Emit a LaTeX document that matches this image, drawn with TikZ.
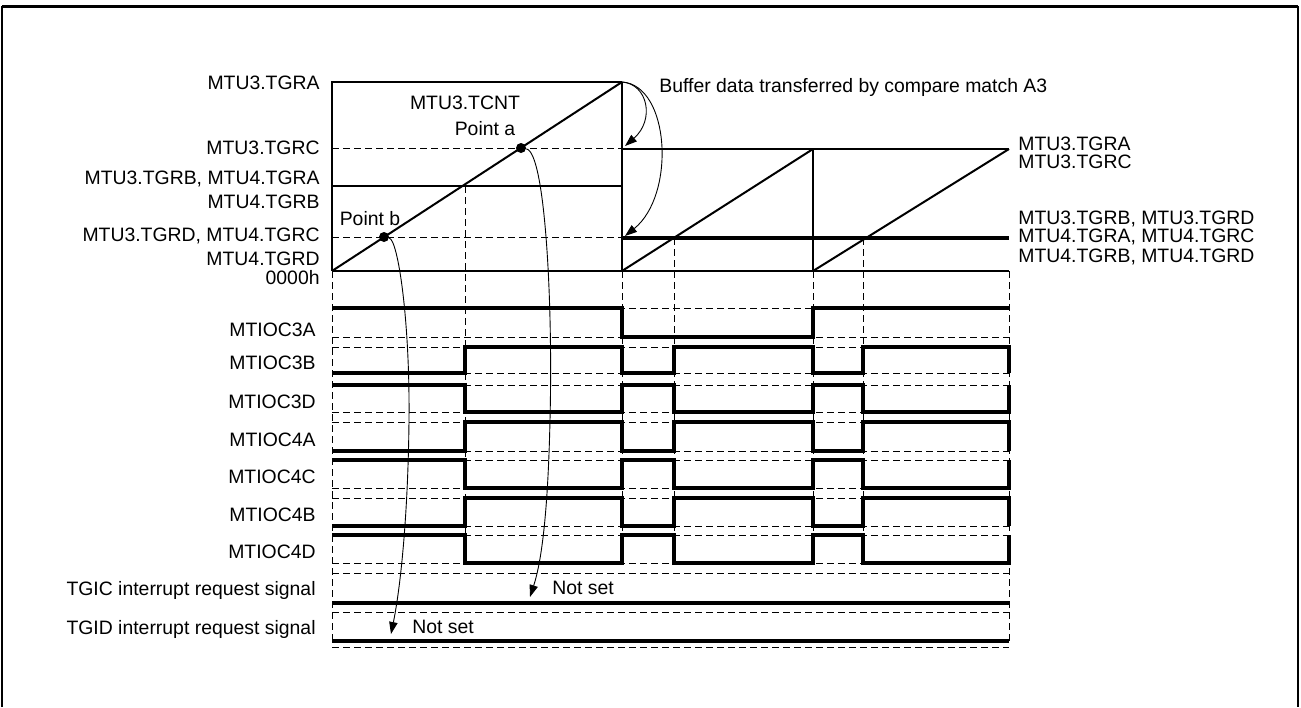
\documentclass[tikz,border=0pt]{standalone}
\usepackage{fontspec}
\setmainfont{Liberation Sans}
\usetikzlibrary{arrows.meta, positioning}

\begin{document}
\begin{tikzpicture}[x=0.5pt, y=-0.5pt,
    >={Triangle[length=6pt,width=4.2pt]},
    lbl/.style={font=\fontsize{9.7}{11}\selectfont, inner sep=0pt},
    llbl/.style={lbl, anchor=east},
    rlbl/.style={lbl, anchor=west},
    tight/.style={rlbl, text height=6.8pt, text depth=0pt},
    guide/.style={dash pattern=on 3.5pt off 2pt, line width=0.5pt},
    sig/.style={line width=1.6pt, line join=miter},
    lvl/.style={line width=1.2pt},
    ramp/.style={line width=1pt},
    note/.style={->, line width=0.45pt},
    dot/.style={circle, fill, inner sep=0pt, minimum size=5pt}]
  \useasboundingbox (0,0) rectangle (1301,707);
  % frame
  \draw[line width=1.5pt] (2,6) -- (1298,6);
  \draw[line width=1pt] (2,707) -- (2,6) (1298,6) -- (1298,707);

  % counter levels
  \draw[guide] (332,148) -- (622,148);
  \draw[guide] (332,237) -- (622,237);
  \draw[line width=0.8pt] (332,271) -- (332,82) -- (622,82);
  \draw[lvl] (332,186) -- (622,186);
  \draw[lvl] (622,82) -- (622,271);
  \draw[lvl] (813,149) -- (813,271);
  \draw[line width=0.7pt] (622,149) -- (1009,149);
  \draw[line width=1.6pt] (622,238) -- (1009,238);
  \draw[line width=1.3pt] (332,271) -- (1009,271);
  \draw[ramp] (332,271) -- (622,82) (622,271) -- (813,149) (813,271) -- (1009,149);

  % timing guides
  \foreach \x/\y in {465/186, 622/271, 674/238, 813/271, 863/238}
    \draw[guide] (\x,\y) -- (\x,563);
  \draw[guide] (332,271) -- (332,641);
  \draw[guide] (1009,271) -- (1009,641);

  % register labels
  \foreach \y/\t [count=\i] in {83/MTU3.TGRA, 148/MTU3.TGRC, 179/{MTU3.TGRB, MTU4.TGRA},
      202/MTU4.TGRB, 236/{MTU3.TGRD, MTU4.TGRC}, 259/MTU4.TGRD, 278/0000h}
    \node[llbl] (yl\i) at (320,\y) {\t};
  \foreach \y/\t [count=\i] in {143.5/MTU3.TGRA, 162/MTU3.TGRC, 217.5/{MTU3.TGRB, MTU3.TGRD},
      236/{MTU4.TGRA, MTU4.TGRC}, 255.5/{MTU4.TGRB, MTU4.TGRD}}
    \node[tight] (yr\i) at (1018,\y) {\t};
  \node[lbl] (tcnt) at (465,103) {MTU3.TCNT};
  \node[lbl] (plbla) at (485,129) {Point a};
  \node[lbl] (plblb) at (370,219) {Point b};
  \node[rlbl] (buf) at (659,87) {Buffer data transferred by compare match A3};

  \node[dot] (pa) at (521,148) {};
  \node[dot] (pb) at (384,237) {};
  \coordinate (peak) at (622,82);
  \coordinate (bufc) at (625,146);
  \coordinate (bufd) at (625,236);

  % outputs
  \draw[guide] (332,308) -- (1009,308) (332,337) -- (1009,337);
  \draw[sig] (332,308) -- (622,308) -- (622,337) -- (813,337) -- (813,308) -- (1009,308);
  \node[llbl] (sl0) at (316,330) {MTIOC3A};
  \foreach \h/\l/\a/\b/\n [count=\i] in {347/373/373/347/MTIOC3B, 385/412/385/412/MTIOC3D,
      422/451/451/422/MTIOC4A, 460/488/460/488/MTIOC4C, 498/526/526/498/MTIOC4B,
      535/563/535/563/MTIOC4D} {
    \draw[guide] (332,\h) -- (1009,\h) (332,\l) -- (1009,\l);
    \draw[sig] (332,\a) -- (465,\a) -- (465,\b) -- (622,\b) -- (622,\a) -- (674,\a)
      -- (674,\b) -- (813,\b) -- (813,\a) -- (863,\a) -- (863,\b) -- (1009,\b) -- (1009,\a);
    \node[llbl] (sl\i) at (316,{(\h+\l)/2+3}) {\n};
  }

  % interrupt requests
  \draw[guide] (332,573) -- (1009,573) (332,612) -- (1009,612) (332,647) -- (1009,647);
  \draw[sig] (332,603) -- (1009,603);
  \draw[sig] (332,641) -- (1009,641);
  \node[llbl] (tgic) at (316,590) {TGIC interrupt request signal};
  \node[llbl] (tgid) at (316,629) {TGID interrupt request signal};

  \coordinate (tipa) at (530,597);
  \coordinate (tipb) at (391,634);
  \node[lbl, above right=1pt and 11pt of tipa, anchor=south west] (nsa) {Not set};
  \node[lbl, above right=0pt and 10.5pt of tipb, anchor=south west] (nsb) {Not set};

  % transfer arrows
  \draw[note] (peak) .. controls (648,84) and (655,120) .. (bufc);
  \draw[note] (peak) .. controls (670,85) and (676,195) .. (bufd);
  \draw[note] (pa) .. controls (545,152) and (553,300) .. (550,420)
    .. controls (548,510) and (542,560) .. (tipa);
  \draw[note] (pb) .. controls (398,240) and (410,320) .. (409,420)
    .. controls (408,520) and (400,590) .. (tipb);
\end{tikzpicture}
\end{document}
